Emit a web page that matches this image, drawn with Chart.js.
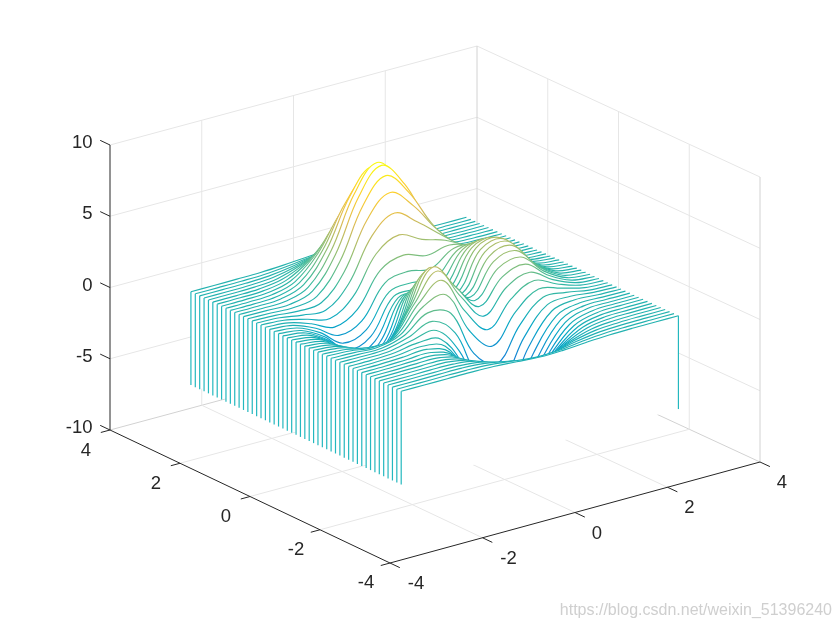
<!DOCTYPE html>
<html>
<head>
<meta charset="utf-8">
<title>waterfall</title>
<script src="https://cdn.jsdelivr.net/npm/chart.js@4"></script>
<style>
body { margin: 0; background: #fff; }
canvas { display: block; }
</style>
</head>
<body>
<canvas id="grafica" width="840" height="630"></canvas>
<script>
// surface heights: one row per constant y, front row first
var xVals = [-3, -2.5, -2, -1.5, -1, -0.5, 0, 0.5, 1, 1.5, 2, 2.5, 3];
var yVals = [-3, -2.875, -2.75, -2.625, -2.5, -2.375, -2.25, -2.125, -2, -1.875, -1.75, -1.625, -1.5, -1.375, -1.25, -1.125, -1, -0.875, -0.75, -0.625, -0.5, -0.375, -0.25, -0.125, 0, 0.125, 0.25, 0.375, 0.5, 0.625, 0.75, 0.875, 1, 1.125, 1.25, 1.375, 1.5, 1.625, 1.75, 1.875, 2, 2.125, 2.25, 2.375, 2.5, 2.625, 2.75, 2.875, 3];
var zRows = [
[0,0,0,0,-.03,-.14,-.25,-.22,-.11,-.03,0,0,0],
[0,0,.01,0,-.06,-.24,-.42,-.38,-.19,-.05,-.01,0,0],
[0,0,.01,.01,-.1,-.39,-.68,-.61,-.3,-.08,-.01,0,0],
[0,0,.01,0,-.16,-.62,-1.06,-.95,-.46,-.12,-.02,0,0],
[0,0,.02,0,-.23,-.92,-1.57,-1.41,-.69,-.18,-.03,0,0],
[0,.01,.02,.01,-.33,-1.3,-2.23,-2,-.98,-.26,-.03,-.01,0],
[0,.01,.03,.01,-.44,-1.74,-3.02,-2.72,-1.32,-.35,-.04,-.01,0],
[0,.01,.04,.02,-.53,-2.21,-3.89,-3.52,-1.71,-.44,-.05,-.01,0],
[0,.01,.05,.05,-.59,-2.64,-4.76,-4.35,-2.1,-.53,-.06,0,0],
[0,.01,.06,.09,-.58,-2.94,-5.5,-5.09,-2.45,-.59,-.06,0,0],
[0,.01,.07,.16,-.46,-3,-5.97,-5.64,-2.69,-.61,-.04,0,0],
[0,.01,.08,.24,-.21,-2.75,-6.04,-5.88,-2.76,-.56,-.01,.01,0],
[0,0,.08,.33,.15,-2.19,-5.68,-5.76,-2.63,-.44,.05,.02,0],
[0,0,.06,.41,.61,-1.29,-4.84,-5.26,-2.29,-.22,.13,.04,0],
[0,-.02,.03,.45,1.11,-.14,-3.6,-4.4,-1.74,.08,.23,.06,.01],
[-.01,-.03,-.04,.43,1.56,1.09,-2.16,-3.34,-1.04,.46,.36,.08,.01],
[-.01,-.06,-.14,.31,1.86,2.23,-.72,-2.23,-.27,.89,.51,.11,.01],
[-.01,-.09,-.27,.07,1.95,3.11,.51,-1.22,.49,1.34,.66,.14,.02],
[-.02,-.13,-.43,-.28,1.78,3.62,1.4,-.42,1.18,1.78,.82,.17,.02],
[-.02,-.16,-.62,-.72,1.38,3.76,1.88,.11,1.75,2.2,.98,.2,.02],
[-.03,-.2,-.81,-1.21,.8,3.55,2,.39,2.2,2.56,1.13,.23,.03],
[-.03,-.24,-.99,-1.71,.12,3.11,1.86,.48,2.53,2.86,1.25,.26,.03],
[-.03,-.27,-1.15,-2.16,-.56,2.56,1.59,.47,2.76,3.09,1.34,.28,.03],
[-.04,-.29,-1.27,-2.53,-1.18,1.99,1.28,.43,2.9,3.23,1.4,.29,.03],
[-.04,-.3,-1.34,-2.77,-1.65,1.48,.98,.37,2.94,3.27,1.41,.29,.03],
[-.04,-.31,-1.36,-2.89,-1.99,1.03,.73,.32,2.9,3.21,1.39,.29,.03],
[-.04,-.3,-1.32,-2.87,-2.15,.68,.53,.28,2.76,3.06,1.32,.27,.03],
[-.04,-.28,-1.25,-2.74,-2.16,.44,.41,.28,2.58,2.84,1.22,.25,.03],
[-.03,-.25,-1.13,-2.49,-2,.39,.47,.38,2.38,2.56,1.09,.23,.03],
[-.03,-.22,-.98,-2.16,-1.67,.57,.78,.65,2.23,2.27,.96,.2,.02],
[-.02,-.18,-.82,-1.76,-1.17,1.04,1.42,1.17,2.17,1.99,.82,.17,.02],
[-.02,-.15,-.65,-1.32,-.51,1.8,2.42,1.95,2.25,1.76,.69,.14,.02],
[-.01,-.11,-.48,-.87,.23,2.79,3.69,2.94,2.44,1.58,.58,.11,.01],
[-.01,-.08,-.33,-.43,.99,3.88,5.08,4.01,2.7,1.45,.48,.09,.01],
[-.01,-.06,-.2,-.05,1.69,4.92,6.38,5.02,2.97,1.35,.41,.07,.01],
[0,-.04,-.09,.26,2.26,5.74,7.42,5.81,3.18,1.27,.34,.06,.01],
[0,-.02,-.02,.48,2.61,6.19,7.99,6.25,3.25,1.18,.29,.05,0],
[0,-.01,.04,.6,2.73,6.25,8.05,6.29,3.18,1.08,.24,.04,0],
[0,0,.07,.64,2.67,5.95,7.66,5.98,2.96,.96,.2,.03,0],
[0,0,.08,.62,2.44,5.35,6.89,5.37,2.62,.82,.17,.02,0],
[0,.01,.08,.55,2.1,4.56,5.86,4.57,2.21,.67,.13,.02,0],
[0,.01,.07,.46,1.71,3.68,4.73,3.69,1.77,.53,.1,.01,0],
[0,.01,.06,.36,1.32,2.84,3.65,2.84,1.36,.4,.08,.01,0],
[0,0,.04,.27,.97,2.09,2.68,2.09,1,.29,.05,.01,0],
[0,0,.03,.19,.69,1.47,1.89,1.47,.7,.2,.04,0,0],
[0,0,.02,.13,.46,.99,1.27,.99,.47,.14,.02,0,0],
[0,0,.01,.08,.3,.64,.82,.64,.3,.09,.02,0,0],
[0,0,.01,.05,.19,.39,.51,.39,.19,.05,.01,0,0],
[0,0,.01,.03,.11,.23,.3,.23,.11,.03,.01,0,0]
];
var xTicks = [-4, -2, 0, 2, 4];
var yTicks = [-4, -2, 0, 2, 4];
var zTicks = [-10, -5, 0, 5, 10];
var zBase = -6.55;
var zTop = 8.1;
var watermark = 'https://blog.csdn.net/weixin_51396240';

// floor corners of the box on the page, and page pixels per z unit
var cornerFront = [390, 563], cornerRight = [760, 462], cornerLeft = [110, 430], cornerBack = [477, 331];
var zPixels = 14.25;

// parula colormap
var parula = ['#352a87', '#0363e1', '#1485d4', '#06a7c6', '#38b99e', '#92bf73', '#d9ba56', '#fcce2e', '#f9fb0e'];

var textColor = '#262626';
var gridColor = '#e6e6e6';
var edgeColor = '#d2d2d2';
var skirtColor = '#24b8bf';

function proyectar(x, y, z) {
	var u = (x + 4) / 8, v = (y + 4) / 8;
	var px = [0, 1].map(function(i) {
		var a = cornerFront[i] + (cornerRight[i] - cornerFront[i]) * u;
		var b = cornerLeft[i] + (cornerBack[i] - cornerLeft[i]) * u;
		return a + (b - a) * v;
	});
	return {x: px[0], y: px[1] - (z + 10) * zPixels};
}

function linea(a, b, color, width) {
	return {
		data: [proyectar(a[0], a[1], a[2]), proyectar(b[0], b[1], b[2])],
		borderColor: color,
		borderWidth: width,
		pointRadius: 0,
		tension: 0
	};
}

// line colour follows z, so one linear gradient per row is exact
function gradienteFila(context) {
	var chart = context.chart, row = context.dataset.rowIndex;
	var a = proyectar(xVals[0], yVals[row], zBase);
	var b = proyectar(xVals[12], yVals[row], zBase);
	var c = proyectar(xVals[0], yVals[row], zTop);
	var ux = b.x - a.x, uy = b.y - a.y;
	var s = -(c.y - a.y) * ux / (ux * ux + uy * uy);
	var grad = chart.ctx.createLinearGradient(a.x, a.y, a.x + s * uy, a.y - s * ux);
	parula.forEach(function(col, i) {
		grad.addColorStop(i / (parula.length - 1), col);
	});
	return grad;
}

var datasets = [];

// later datasets are painted first, so the front row goes first
zRows.forEach(function(zRow, k) {
	datasets.push(linea([xVals[0], yVals[k], zBase], [xVals[0], yVals[k], zRow[0]], skirtColor, 1.2));
	if (k === 0) {
		datasets.push(linea([xVals[12], yVals[k], zBase], [xVals[12], yVals[k], zRow[12]], skirtColor, 1.2));
	}
	datasets.push({
		rowIndex: k,
		data: zRow.map(function(z, i) { return proyectar(xVals[i], yVals[k], z); }),
		borderColor: gradienteFila,
		borderWidth: 1.15,
		pointRadius: 0,
		tension: 0.38
	});
});

// axes and their tick marks
datasets.push(linea([-4, 4, -10], [-4, 4, 10], textColor, 1));
datasets.push(linea([-4, 4, -10], [-4, -4, -10], textColor, 1));
datasets.push(linea([-4, -4, -10], [4, -4, -10], textColor, 1));
zTicks.forEach(function(z) {
	datasets.push(linea([-4, 4, z], [-4, 4.28, z], textColor, 1));
});
yTicks.forEach(function(y) {
	datasets.push(linea([-4, y, -10], [-4.2, y, -10], textColor, 1));
});
xTicks.forEach(function(x) {
	datasets.push(linea([x, -4, -10], [x, -4.28, -10], textColor, 1));
});

// walls and floor grid
xTicks.forEach(function(x) {
	if (x > -4) datasets.push(linea([x, 4, -10], [x, 4, 10], x === 4 ? edgeColor : gridColor, 1));
	if (x > -4 && x < 4) datasets.push(linea([x, -4, -10], [x, 4, -10], gridColor, 1));
});
yTicks.forEach(function(y) {
	if (y < 4) datasets.push(linea([4, y, -10], [4, y, 10], y === -4 ? edgeColor : gridColor, 1));
	if (y > -4 && y < 4) datasets.push(linea([-4, y, -10], [4, y, -10], gridColor, 1));
});
zTicks.forEach(function(z) {
	var col = z === -10 ? edgeColor : gridColor;
	datasets.push(linea([-4, 4, z], [4, 4, z], col, 1));
	datasets.push(linea([4, 4, z], [4, -4, z], col, 1));
});

// white patch under each row, hides whatever sits behind it
var parchePlugin = {
	id: 'parche',
	beforeDatasetDraw: function(chart, args) {
		var ds = chart.data.datasets[args.index];
		if (ds.rowIndex === undefined) return;
		var ctx = chart.ctx;
		var right = proyectar(xVals[12], yVals[ds.rowIndex], zBase);
		var left = proyectar(xVals[0], yVals[ds.rowIndex], zBase);
		ctx.save();
		ctx.beginPath();
		args.meta.dataset.path(ctx);
		ctx.lineTo(chart.scales.x.getPixelForValue(right.x), chart.scales.y.getPixelForValue(right.y));
		ctx.lineTo(chart.scales.x.getPixelForValue(left.x), chart.scales.y.getPixelForValue(left.y));
		ctx.closePath();
		ctx.fillStyle = '#fff';
		ctx.fill();
		ctx.restore();
	}
};

var textoPlugin = {
	id: 'texto',
	afterDraw: function(chart) {
		var ctx = chart.ctx;
		var sx = chart.scales.x, sy = chart.scales.y;
		function rotulo(label, p, dx, dy) {
			ctx.fillText(label, sx.getPixelForValue(p.x) + dx, sy.getPixelForValue(p.y) + dy);
		}
		ctx.save();
		ctx.font = '18.5px "Liberation Sans", Arial, sans-serif';
		ctx.fillStyle = textColor;
		ctx.textBaseline = 'middle';
		ctx.textAlign = 'right';
		zTicks.forEach(function(z) {
			rotulo(String(z), proyectar(-4, 4, z), -17.5, -2);
		});
		ctx.textAlign = 'center';
		yTicks.forEach(function(y) {
			rotulo(String(y), proyectar(-4, y, -10), -24, y > 0 ? 21 : 20);
		});
		xTicks.forEach(function(x) {
			rotulo(String(x), proyectar(x, -4, -10), x < 0 ? 26 : 22, 21);
		});
		ctx.font = '16px "Liberation Sans", Arial, sans-serif';
		ctx.fillStyle = '#cfcfcf';
		ctx.textAlign = 'right';
		ctx.fillText(watermark, 832, 611);
		ctx.restore();
	}
};

var chart = new Chart(document.getElementById('grafica').getContext('2d'), {
	type: 'line',
	data: {datasets: datasets},
	plugins: [parchePlugin, textoPlugin],
	options: {
		responsive: false,
		animation: false,
		layout: {padding: 0},
		plugins: {legend: {display: false}, tooltip: {enabled: false}},
		events: [],
		scales: {
			x: {type: 'linear', min: 0, max: 840, display: false},
			y: {type: 'linear', min: 0, max: 630, reverse: true, display: false}
		}
	}
});
</script>
</body>
</html>
